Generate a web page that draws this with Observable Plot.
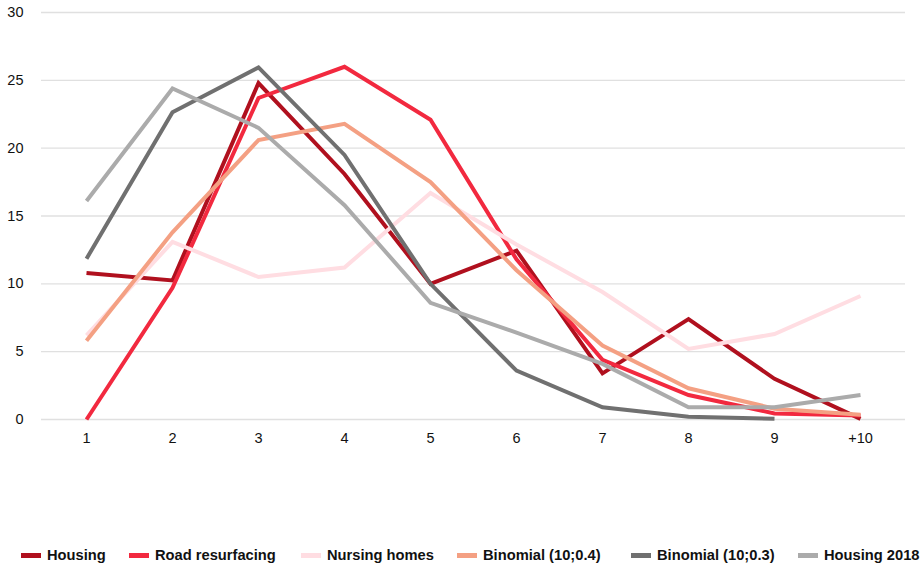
<!DOCTYPE html>
<html>
<head>
<meta charset="utf-8">
<script src="https://cdn.jsdelivr.net/npm/d3@7"></script>
<script src="https://cdn.jsdelivr.net/npm/@observablehq/plot@0.6"></script>
<style>
  html, body { margin: 0; padding: 0; background: #fff; }
  body { width: 922px; height: 566px; position: relative; overflow: hidden; font-family: "Liberation Sans", Arial, sans-serif; }
  #legend { position: absolute; left: 0; top: 546px; width: 922px; height: 20px; }
  .item { position: absolute; top: 0; height: 18px; display: flex; align-items: center; white-space: nowrap; }
  .sw { width: 20px; height: 5px; margin-right: 6px; }
  .lab { font-size: 14.7px; font-weight: bold; color: #111; }
</style>
</head>
<body>
<div id="chart"></div>
<div id="legend"></div>
<script>
const categories = ["1", "2", "3", "4", "5", "6", "7", "8", "9", "+10"];
const seriesNames = ["Housing", "Road resurfacing", "Nursing homes", "Binomial (10;0.4)", "Binomial (10;0.3)", "Housing 2018"];
const seriesColors = ["#b0101e", "#f2293f", "#ffdde2", "#f4a083", "#707070", "#ababab"];

const housing        = [10.8, 10.25, 24.8, 18.1, 10.0, 12.45, 3.4, 7.4, 3.0, 0.05];
const roadResurfacing = [0.0, 9.7, 23.7, 26.0, 22.1, 11.8, 4.4, 1.8, 0.45, 0.3];
const nursingHomes   = [6.2, 13.1, 10.5, 11.2, 16.7, 12.9, 9.4, 5.2, 6.3, 9.1];
const binomial04     = [5.8, 13.8, 20.6, 21.8, 17.5, 11.0, 5.45, 2.3, 0.8, 0.35];
const binomial03     = [11.85, 22.65, 25.95, 19.5, 10.0, 3.6, 0.9, 0.2, 0.05, null];
const housing2018    = [16.1, 24.4, 21.5, 15.8, 8.6, 6.4, 4.1, 0.9, 0.9, 1.8];

const yTicks = [0, 5, 10, 15, 20, 25, 30];

const allSeries = [housing, roadResurfacing, nursingHomes, binomial04, binomial03, housing2018];
const data = [];
allSeries.forEach((vals, si) => {
  vals.forEach((v, i) => {
    if (v !== null) data.push({ series: seriesNames[si], cat: categories[i], value: v });
  });
});

const chart = Plot.plot({
  width: 922,
  height: 470,
  marginLeft: 41,
  marginRight: 17,
  marginTop: 12,
  marginBottom: 51,
  style: { fontFamily: "'Liberation Sans', Arial, sans-serif", fontSize: "14.5px", color: "#111", background: "#fff" },
  x: { type: "point", domain: categories, padding: 0.5, label: null },
  y: { domain: [0, 30], label: null },
  color: { domain: seriesNames, range: seriesColors },
  marks: [
    Plot.ruleY(yTicks, { stroke: "#e0e0e0", strokeWidth: 1.3 }),
    Plot.axisX({ tickSize: 0, tickPadding: 13, fontSize: 14.5, label: null }),
    Plot.axisY({ ticks: yTicks, tickSize: 0, tickPadding: 18, fontSize: 14.5, label: null }),
    Plot.line(data, {
      x: "cat", y: "value", z: "series", stroke: "series",
      strokeWidth: 4, strokeLinejoin: "miter", strokeLinecap: "butt", strokeMiterlimit: 10
    })
  ]
});
document.getElementById("chart").appendChild(chart);

const legendX = [21, 129, 301, 457, 631, 798];
const legend = document.getElementById("legend");
seriesNames.forEach((name, i) => {
  const it = document.createElement("div");
  it.className = "item";
  it.style.left = legendX[i] + "px";
  const sw = document.createElement("div");
  sw.className = "sw";
  sw.style.background = seriesColors[i];
  const lab = document.createElement("span");
  lab.className = "lab";
  lab.textContent = name;
  it.appendChild(sw);
  it.appendChild(lab);
  legend.appendChild(it);
});
</script>
</body>
</html>
